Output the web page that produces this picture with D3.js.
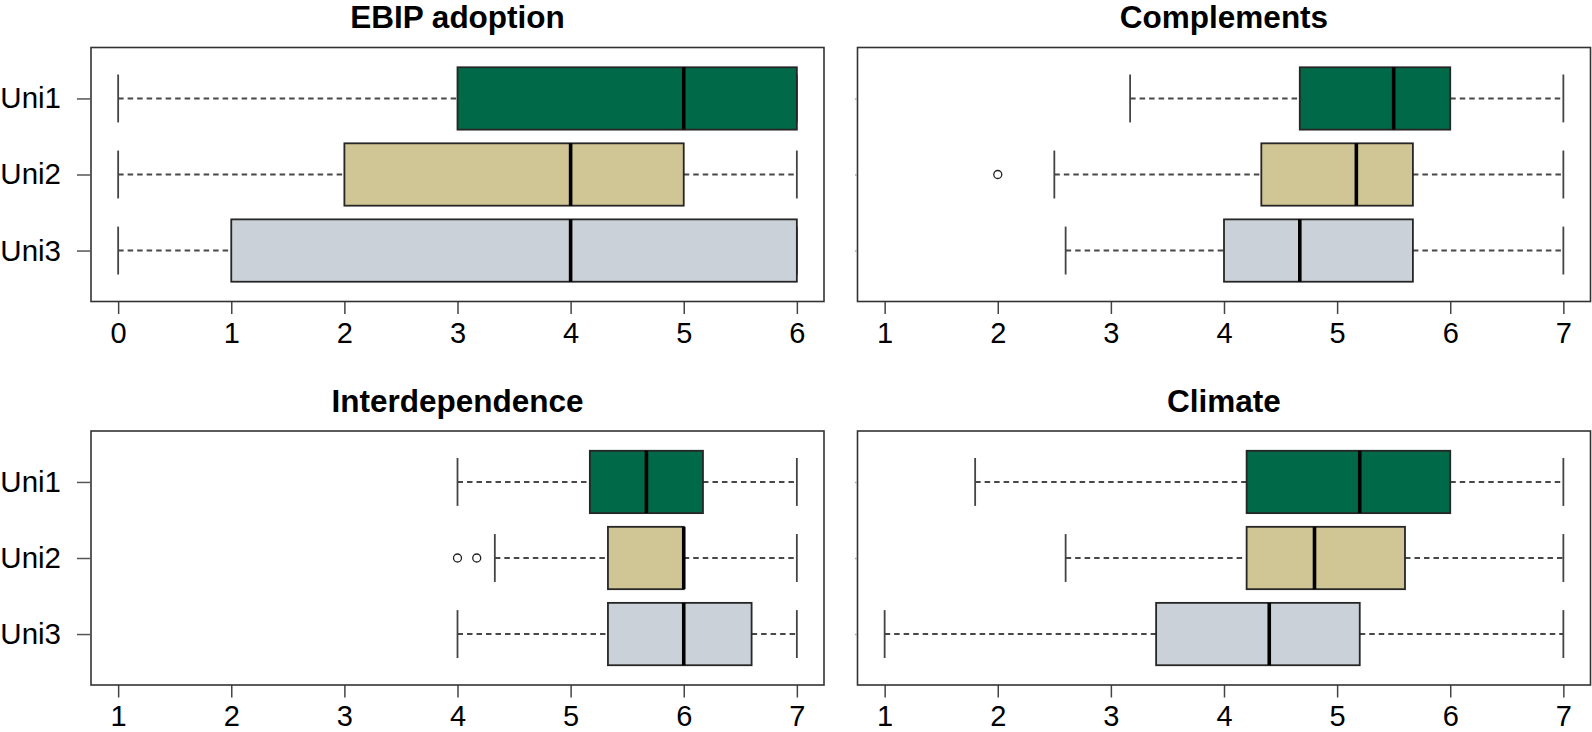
<!DOCTYPE html>
<html>
<head>
<meta charset="utf-8">
<script src="https://cdn.jsdelivr.net/npm/d3@7"></script>
<style>
  html, body { margin: 0; padding: 0; background: #fff; }
  svg { display: block; }
  text { font-family: "Liberation Sans", Arial, sans-serif; }
</style>
</head>
<body>
<svg id="chart" width="1592" height="732"></svg>
<script>
// ---- data ----
const categories = ["Uni1", "Uni2", "Uni3"];
const fillColors = ["#006947", "#D0C594", "#CAD1D8"];

const titles = ["EBIP adoption", "Complements", "Interdependence", "Climate"];
const ticksEbip = [0, 1, 2, 3, 4, 5, 6];
const ticksLikert = [1, 2, 3, 4, 5, 6, 7];

// EBIP adoption
const ebipLow  = [0, 0, 0];
const ebipQ1   = [3, 2, 1];
const ebipMed  = [5, 4, 4];
const ebipQ3   = [6, 5, 6];
const ebipHigh = [6, 6, 6];
const ebipOut  = [[], [], []];

// Complements
const compLow  = [3.17, 2.5, 2.6];
const compQ1   = [4.67, 4.33, 4.0];
const compMed  = [5.5, 5.17, 4.67];
const compQ3   = [6.0, 5.67, 5.67];
const compHigh = [7, 7, 7];
const compOut  = [[], [2], []];

// Interdependence
const interLow  = [4, 4.33, 4];
const interQ1   = [5.17, 5.33, 5.33];
const interMed  = [5.67, 6, 6];
const interQ3   = [6.17, 6, 6.6];
const interHigh = [7, 7, 7];
const interOut  = [[], [4, 4.17], []];

// Climate
const climLow  = [1.8, 2.6, 1];
const climQ1   = [4.2, 4.2, 3.4];
const climMed  = [5.2, 4.8, 4.4];
const climQ3   = [6.0, 5.6, 5.2];
const climHigh = [7, 7, 7];
const climOut  = [[], [], []];

function buildStats(low, q1, med, q3, high, out) {
  return categories.map((c, i) => ({ cat: c, i, low: low[i], q1: q1[i], med: med[i], q3: q3[i], high: high[i], out: out[i] }));
}

const panelData = [
  { title: titles[0], ticks: ticksEbip,   stats: buildStats(ebipLow, ebipQ1, ebipMed, ebipQ3, ebipHigh, ebipOut) },
  { title: titles[1], ticks: ticksLikert, stats: buildStats(compLow, compQ1, compMed, compQ3, compHigh, compOut) },
  { title: titles[2], ticks: ticksLikert, stats: buildStats(interLow, interQ1, interMed, interQ3, interHigh, interOut) },
  { title: titles[3], ticks: ticksLikert, stats: buildStats(climLow, climQ1, climMed, climQ3, climHigh, climOut) }
];

// ---- layout ----
const colX = [[91, 824], [857.5, 1590.5]];
const rowY = [[47.5, 301.5], [431, 685]];

const svg = d3.select("#chart");

panelData.forEach((p, k) => {
  const col = k % 2, row = Math.floor(k / 2);
  const [x0, x1] = colX[col];
  const [y0, y1] = rowY[row];
  const tmin = d3.min(p.ticks), tmax = d3.max(p.ticks);
  const pad = (tmax - tmin) * 0.04;
  const x = d3.scaleLinear().domain([tmin - pad, tmax + pad]).range([x0, x1]);
  const y = d3.scaleLinear().domain([0.33, 3.67]).range([y0, y1]);
  const unit = y(2) - y(1);
  const boxH = 0.82 * unit;
  const stapleH = 0.42 * unit;

  const g = svg.append("g");

  // title
  const cx = (x0 + x1) / 2;
  g.append("text")
    .attr("x", cx).attr("y", y0 - 19.5)
    .attr("text-anchor", "middle")
    .attr("font-weight", "bold")
    .attr("font-size", 31.5)
    .attr("fill", "#000")
    .text(p.title);

  // x axis
  const xAxis = d3.axisBottom(x).tickValues(p.ticks).tickSize(12.5).tickPadding(8).tickFormat(d3.format("d"));
  const ax = g.append("g").attr("transform", `translate(0,${y1})`).call(xAxis);
  ax.select(".domain").remove();
  ax.selectAll(".tick line").attr("stroke", "#444").attr("stroke-width", 1.5);
  ax.selectAll(".tick text").attr("font-size", 29).attr("fill", "#000")
    .attr("font-family", "'Liberation Sans', Arial, sans-serif");

  // y axis
  const yAxis = d3.axisLeft(y).tickValues([1, 2, 3]).tickSize(col === 0 ? 13 : 1.5).tickPadding(16)
    .tickFormat(d => col === 0 ? categories[d - 1] : "");
  const ay = g.append("g").attr("transform", `translate(${x0 - 1},0)`).call(yAxis);
  ay.select(".domain").remove();
  ay.selectAll(".tick line").attr("stroke", col === 0 ? "#555" : "#aaa").attr("stroke-width", 1.5);
  ay.selectAll(".tick text").attr("font-size", 29.5).attr("fill", "#000")
    .attr("font-family", "'Liberation Sans', Arial, sans-serif");

  // boxes
  const b = g.selectAll("g.box").data(p.stats).enter().append("g").attr("class", "box");

  // whiskers
  b.append("line")
    .attr("x1", d => x(d.low)).attr("x2", d => x(d.q1))
    .attr("y1", d => y(d.i + 1)).attr("y2", d => y(d.i + 1))
    .attr("stroke", "#484848").attr("stroke-width", 2).attr("stroke-dasharray", "5.5,4");
  b.append("line")
    .attr("x1", d => x(d.q3)).attr("x2", d => x(d.high))
    .attr("y1", d => y(d.i + 1)).attr("y2", d => y(d.i + 1))
    .attr("stroke", "#484848").attr("stroke-width", 2).attr("stroke-dasharray", "5.5,4");
  // staples
  ["low", "high"].forEach(key => {
    b.append("line")
      .attr("x1", d => x(d[key])).attr("x2", d => x(d[key]))
      .attr("y1", d => y(d.i + 1) - stapleH * 0.75).attr("y2", d => y(d.i + 1) + stapleH * 0.75)
      .attr("stroke", "#444").attr("stroke-width", 1.8);
  });
  // box
  b.append("rect")
    .attr("x", d => x(d.q1)).attr("width", d => x(d.q3) - x(d.q1))
    .attr("y", d => y(d.i + 1) - boxH / 2).attr("height", boxH)
    .attr("fill", (d) => fillColors[d.i])
    .attr("stroke", "#262626").attr("stroke-width", 1.8);
  // median
  b.append("line")
    .attr("x1", d => x(d.med)).attr("x2", d => x(d.med))
    .attr("y1", d => y(d.i + 1) - boxH / 2).attr("y2", d => y(d.i + 1) + boxH / 2)
    .attr("stroke", "#000").attr("stroke-width", 3.6);
  // outliers
  b.each(function(d) {
    d3.select(this).selectAll("circle").data(d.out).enter().append("circle")
      .attr("cx", v => x(v)).attr("cy", y(d.i + 1)).attr("r", 4)
      .attr("fill", "#fff").attr("stroke", "#222").attr("stroke-width", 1.3);
  });

  // frame
  g.append("rect")
    .attr("x", x0).attr("y", y0).attr("width", x1 - x0).attr("height", y1 - y0)
    .attr("fill", "none").attr("stroke", "#333").attr("stroke-width", 1.6);
});
</script>
</body>
</html>
